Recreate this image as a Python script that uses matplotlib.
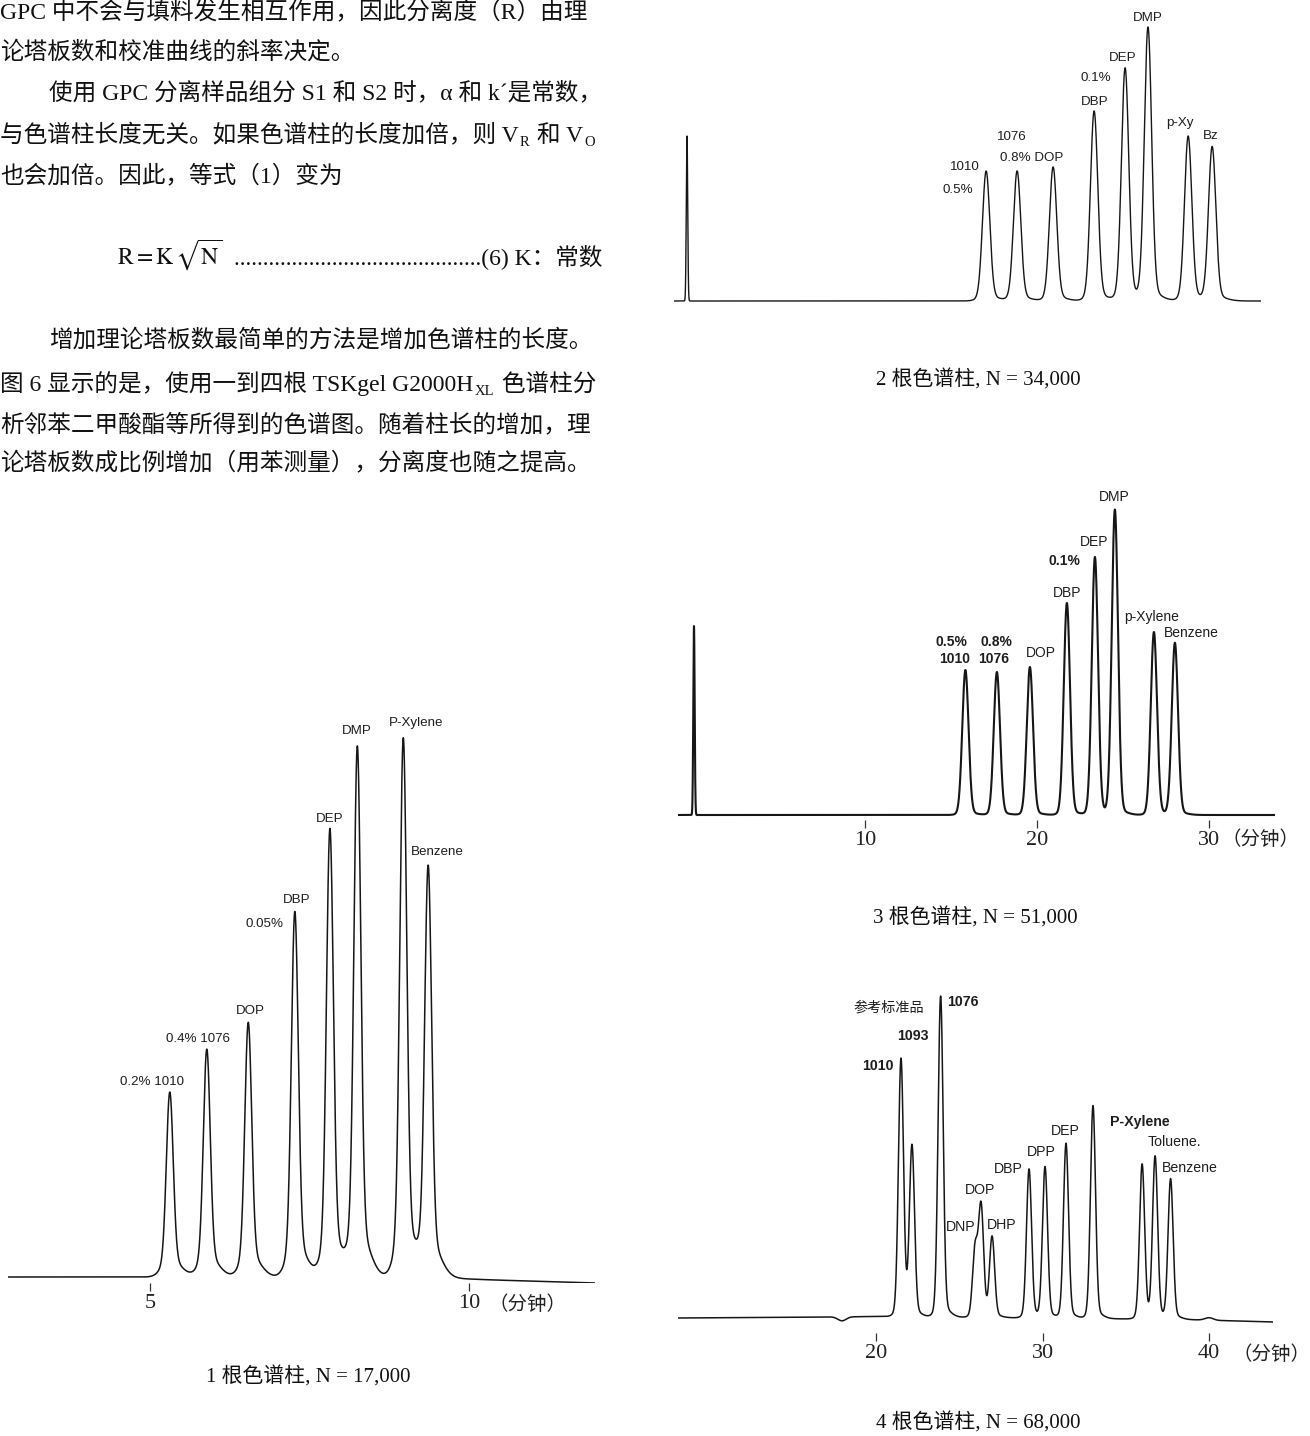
import numpy as np
import matplotlib
matplotlib.use("Agg")
import matplotlib.pyplot as plt

W, H, DPI = 1310, 1436, 100
SERIF = ["Liberation Serif", "Noto Sans CJK SC"]
SANS = ["Liberation Sans", "Noto Sans CJK SC"]
plt.rcParams["mathtext.fontset"] = "stix"

# ------------------------------------------------------------------ data
# Chart 1: one column, N = 17,000 (time in min, height in arbitrary units)
c1_names = ["1010", "1076", "DOP", "DBP", "DEP", "DMP", "P-Xylene", "Benzene"]
c1_times = [5.31, 5.89, 6.54, 7.27, 7.82, 8.25, 8.97, 9.36]
c1_heights = [185, 228, 255, 366, 449, 530, 540, 409]
c1_base_t = [2.77, 5.2, 9.6, 10.4, 11.98]
c1_base_v = [0, 0, -1, -3, -6]
c1_ticks = [5, 10]
c1_caption = "1 根色谱柱, N = 17,000"

# Chart 2: two columns, N = 34,000 (no time axis printed)
c2_names = ["1010", "1076", "DOP", "DBP", "DEP", "DMP", "p-Xy", "Bz"]
c2_times = [10.72, 11.83, 13.12, 14.59, 15.70, 16.52, 17.96, 18.82]
c2_heights = [130, 130, 134, 190, 233, 273, 165, 154]
c2_inj_time = [0.0]
c2_inj_height = [165]
c2_caption = "2 根色谱柱, N = 34,000"

# Chart 3: three columns, N = 51,000
c3_names = ["1010", "1076", "DOP", "DBP", "DEP", "DMP", "p-Xylene", "Benzene"]
c3_times = [15.84, 17.67, 19.59, 21.74, 23.37, 24.53, 26.80, 28.02]
c3_heights = [145, 143, 148, 212, 258, 305, 183, 172]
c3_inj_time = [0.06]
c3_inj_height = [189]
c3_ticks = [10, 20, 30]
c3_caption = "3 根色谱柱, N = 51,000"

# Chart 4: four columns, N = 68,000
c4_names = ["1010", "1093", "1076", "DNP", "DOP", "DHP", "DBP", "DPP",
            "DEP", "DMP", "P-Xylene", "Toluene", "Benzene"]
c4_times = [21.50, 22.16, 23.88, 25.95, 26.31, 26.97, 29.19, 30.15,
            31.41, 33.03, 35.98, 36.76, 37.69]
c4_heights = [258, 169, 321, 68, 110, 80, 149, 151, 175, 213, 155, 162, 140]
c4_minor_times = [17.96, 40.0]
c4_minor_heights = [-4, 2.5]
c4_base_t = [8.1, 20.5, 38.5, 43.9]
c4_base_v = [0, 1.5, -1.5, -4]
c4_ticks = [20, 30, 40]
c4_caption = "4 根色谱柱, N = 68,000"

unit_label = "（分钟）"

text_lines = [
    "GPC 中不会与填料发生相互作用，因此分离度（R）由理",
    "论塔板数和校准曲线的斜率决定。",
    "使用 GPC 分离样品组分 S1 和 S2 时，α 和 k´是常数，",
    [("与色谱柱长度无关。如果色谱柱的长度加倍，则 V", False), ("R", True),
     (" 和 V", False), ("O", True)],
    "也会加倍。因此，等式（1）变为",
    "增加理论塔板数最简单的方法是增加色谱柱的长度。",
    [("图 6 显示的是，使用一到四根 TSKgel G2000H", False), ("XL", True),
     (" 色谱柱分", False)],
    "析邻苯二甲酸酯等所得到的色谱图。随着柱长的增加，理",
    "论塔板数成比例增加（用苯测量），分离度也随之提高。",
]
formula_math = r"$\mathrm{R{=}K}\,\sqrt{\mathrm{N}}$"
formula_tail = "." * 43 + "(6) K：常数"

# ------------------------------------------------------------------ helpers
fig = plt.figure(figsize=(W / DPI, H / DPI), dpi=DPI)
fig.patch.set_facecolor("white")
renderer = fig.canvas.get_renderer()


def ftext(x, y, s, **kw):
    return fig.text(x / W, 1 - y / H, s, **kw)


def px_ax(x0, x1, y0, y1):
    ax = fig.add_axes([x0 / W, 1 - y1 / H, (x1 - x0) / W, (y1 - y0) / H])
    ax.patch.set_alpha(0)
    for sp in ax.spines.values():
        sp.set_visible(False)
    ax.set_yticks([])
    ax.set_xticks([])
    return ax


def peaks(t, times, heights, sigma, w, fl, fr):
    y = np.zeros_like(t)
    for t0, h in zip(times, heights):
        d = t - t0
        core = np.exp(-0.5 * (d / sigma) ** 2)
        sw = np.where(d < 0, fl * sigma, fr * sigma)
        wing = np.exp(-0.5 * (d / sw) ** 2)
        y += h * ((1 - w) * core + w * wing)
    return y


def draw_chrom(ax, xlim, ylim, comps, base=None, lw=1.1):
    t = np.linspace(xlim[0], xlim[1], 12000)
    y = np.zeros_like(t)
    for times, heights, shape in comps:
        y += peaks(t, times, heights, *shape)
    if base is not None:
        y += np.interp(t, base[0], base[1])
    ax.plot(t, y, color="#161616", lw=lw, solid_joinstyle="round")
    ax.set_xlim(*xlim)
    ax.set_ylim(*ylim)


def set_ticks(ax, ticks):
    ax.set_xticks(ticks)
    ax.set_xticklabels([str(v) for v in ticks])
    for lab in ax.get_xticklabels():
        lab.set_fontfamily(SERIF)
        lab.set_fontsize(16)
        lab.set_color("#222222")
    ax.tick_params(axis="x", direction="out", length=6, width=0.9,
                   pad=2, color="#333333")


def labels(ax, items, size):
    for it in items:
        s, t, v = it[:3]
        opts = it[3] if len(it) > 3 else {}
        ax.text(t, v, s, ha=opts.get("ha", "center"), va="center",
                fontsize=size, family=SANS, color="#1e1e1e",
                fontweight=opts.get("w", "normal"))


# ------------------------------------------------------------------ text block
FS = 17
baselines = [19, 59, 99, 142, 182, 347, 391, 431, 470]
starts = [0, 0, 49, 0, 0, 49, 0, 0, 0]
for line, yb, x0 in zip(text_lines, baselines, starts):
    if isinstance(line, str):
        ftext(x0, yb, line, fontsize=FS, family=SERIF, va="baseline",
              ha="left", color="#111111")
    else:
        x = x0
        for s, sub in line:
            size = FS * 0.62 if sub else FS
            yy = yb + (4 if sub else 0)
            tx = ftext(x, yy, s, fontsize=size, family=SERIF, va="baseline",
                       ha="left", color="#111111")
            x += tx.get_window_extent(renderer).width + (1 if not sub else 2)

ftext(117, 264, formula_math, fontsize=FS, va="baseline", ha="left",
      color="#111111")
ftext(234, 264, formula_tail, fontsize=FS, family=SERIF, va="baseline",
      ha="left", color="#111111")

# ------------------------------------------------------------------ chart 1
ax1 = px_ax(8, 595, 700, 1283)
draw_chrom(ax1, (2.774, 11.975), (-6, 577),
           [(c1_times, c1_heights, (0.053, 0.10, 2.2, 3.2))],
           base=(c1_base_t, c1_base_v), lw=1.1)
set_ticks(ax1, c1_ticks)
labels(ax1, [("0.2% 1010", 5.03, 195), ("0.4% 1076", 5.75, 238),
             ("DOP", 6.57, 266), ("0.05%", 6.80, 353), ("DBP", 7.30, 377),
             ("DEP", 7.81, 458), ("DMP", 8.245, 546),
             ("P-Xylene", 9.17, 554), ("Benzene", 9.50, 425)], 9.6)
ax1.text(10.92, -28, unit_label, ha="center", va="center", fontsize=14,
         family=SERIF, color="#222222")
ftext(308, 1377, c1_caption, fontsize=15, family=SERIF, ha="center",
      va="center", color="#111111")

# ------------------------------------------------------------------ chart 2
ax2 = px_ax(674, 1261, 0, 310)
draw_chrom(ax2, (-0.466, 20.57), (-9, 301),
           [(c2_times, c2_heights, (0.13, 0.04, 2.0, 3.0)),
            (c2_inj_time, c2_inj_height, (0.025, 0.0, 1.0, 1.0))], lw=1.0)
labels(ax2, [("1010", 9.96, 134), ("0.5%", 9.71, 111), ("1076", 11.65, 164),
             ("0.8% DOP", 12.37, 143), ("0.1%", 14.66, 223),
             ("DBP", 14.62, 199), ("DEP", 15.63, 243), ("DMP", 16.52, 283),
             ("p-Xy", 17.67, 178), ("Bz", 18.75, 165)], 9.6)
ftext(978, 380, c2_caption, fontsize=15, family=SERIF, ha="center",
      va="center", color="#111111")

# ------------------------------------------------------------------ chart 3
ax3 = px_ax(678, 1275, 470, 820)
draw_chrom(ax3, (-0.87, 33.84), (-5, 345),
           [(c3_times, c3_heights, (0.18, 0.02, 2.0, 3.0)),
            (c3_inj_time, c3_inj_height, (0.04, 0.0, 1.0, 1.0))], lw=1.5)
set_ticks(ax3, c3_ticks)
B = {"w": "bold"}
labels(ax3, [("0.5%", 15.0, 173, B), ("1010", 15.23, 156, B),
             ("0.8%", 17.67, 173, B), ("1076", 17.5, 156, B),
             ("DOP", 20.23, 162), ("DBP", 21.74, 222), ("0.1%", 21.57, 254, B),
             ("DEP", 23.31, 273), ("DMP", 24.48, 318),
             ("p-Xylene", 26.69, 198), ("Benzene", 28.95, 182)], 10)
ax3.text(33.0, -25, unit_label, ha="center", va="center", fontsize=14,
         family=SERIF, color="#222222")
ftext(975, 918, c3_caption, fontsize=15, family=SERIF, ha="center",
      va="center", color="#111111")

# ------------------------------------------------------------------ chart 4
ax4 = px_ax(678, 1273, 990, 1333)
draw_chrom(ax4, (8.11, 43.84), (-15, 328),
           [(c4_times, c4_heights, (0.15, 0.04, 2.0, 3.0)),
            (c4_minor_times, c4_minor_heights, (0.25, 0.0, 1.0, 1.0))],
           base=(c4_base_t, c4_base_v), lw=1.1)
set_ticks(ax4, c4_ticks)
labels(ax4, [("参考标准品", 20.78, 310), ("1076", 24.26, 316, {"ha": "left", "w": "bold"}),
             ("1093", 22.22, 282, B), ("1010", 20.12, 252, B),
             ("DOP", 26.25, 128), ("DNP", 25.11, 91), ("DHP", 27.57, 93),
             ("DBP", 27.93, 149), ("DPP", 29.91, 166), ("DEP", 31.35, 187),
             ("P-Xylene", 35.86, 196, B), ("Toluene.", 37.9, 176),
             ("Benzene", 38.86, 150)], 10.2)
ax4.text(43.72, -37, unit_label, ha="center", va="center", fontsize=14,
         family=SERIF, color="#222222")
ftext(978, 1423, c4_caption, fontsize=15, family=SERIF, ha="center",
      va="center", color="#111111")

fig.savefig("out.png", dpi=DPI, facecolor="white")
